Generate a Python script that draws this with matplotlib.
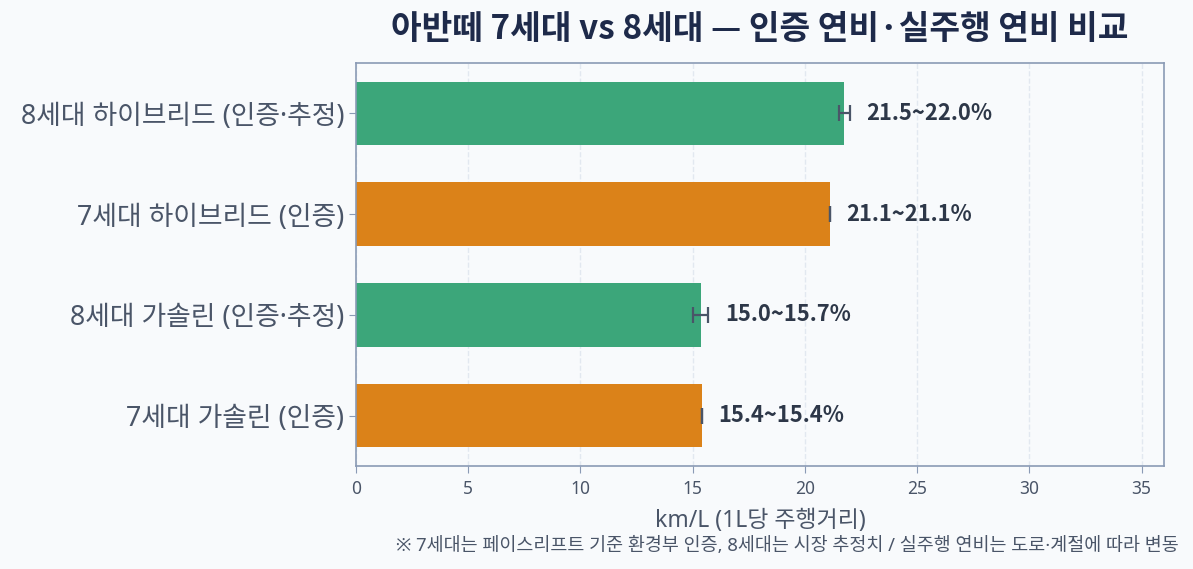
import matplotlib
matplotlib.use("Agg")
import matplotlib.pyplot as plt
import numpy as np

plt.rcParams['font.family'] = ['Noto Sans', 'Noto Sans CJK KR', 'DejaVu Sans']
BOLD_FAMILY = ['Noto Sans CJK KR', 'DejaVu Sans']

categories = ["7세대 가솔린 (인증)", "8세대 가솔린 (인증·추정)", "7세대 하이브리드 (인증)", "8세대 하이브리드 (인증·추정)"]
low_vals = [15.4, 15.0, 21.1, 21.5]
high_vals = [15.4, 15.7, 21.1, 22.0]
generation = ["7", "8", "7", "8"]
xticks = [0, 5, 10, 15, 20, 25, 30, 35]

colors = {"7": "#DB8219", "8": "#3CA67A"}
bg = "#F8FAFC"

fig = plt.figure(figsize=(11.93, 5.69), dpi=100, facecolor=bg)
ax = fig.add_axes([0.2984, 0.181, 0.6773, 0.7083], facecolor=bg)

y = np.arange(len(categories))
low = np.array(low_vals)
high = np.array(high_vals)
mid = (low + high) / 2
ax.barh(y, mid, height=0.63, color=[colors[g] for g in generation], zorder=2)
ax.errorbar(mid, y, xerr=[mid - low, high - mid], fmt='none', ecolor='#4A5568',
            elinewidth=1.6, capsize=6, capthick=1.6, zorder=3)
for yi, lo, hi in zip(y, low, high):
    ax.text(hi + 0.75, yi, f"{lo:.1f}~{hi:.1f}%", va='center', ha='left',
            fontsize=15.8, fontweight='bold', color='#2D3748', family=BOLD_FAMILY)

ax.set_yticks(y)
ax.set_yticklabels(categories, fontsize=19.3, color='#4A5568')
ax.set_xticks(xticks)
ax.set_xticklabels([str(t) for t in xticks], fontsize=12.5, color='#4A5568')
ax.set_xlim(0, 36.0)
ax.set_ylim(-0.5, 3.5)
ax.set_xlabel("km/L (1L당 주행거리)", fontsize=16.5, color='#4A5568', labelpad=8)
ax.grid(axis='x', linestyle='--', color='#E2E8F0', linewidth=1, zorder=0)
ax.set_axisbelow(True)
for s in ax.spines.values():
    s.set_color('#8A9AB5')
    s.set_linewidth(1.2)
ax.tick_params(axis='both', colors='#8A9AB5', labelcolor='#4A5568', length=5)
ax.tick_params(axis='x', pad=5)

ax.set_title("아반떼 7세대 vs 8세대 — 인증 연비·실주행 연비 비교", fontsize=24,
             fontweight='bold', color='#1E2A4A', pad=17, family=BOLD_FAMILY)
fig.text(0.988, 0.040, "※ 7세대는 페이스리프트 기준 환경부 인증, 8세대는 시장 추정치 / 실주행 연비는 도로·계절에 따라 변동",
         ha='right', va='center', fontsize=13.3, color='#4A5568')

fig.savefig("out.png", dpi=100, facecolor=bg)
